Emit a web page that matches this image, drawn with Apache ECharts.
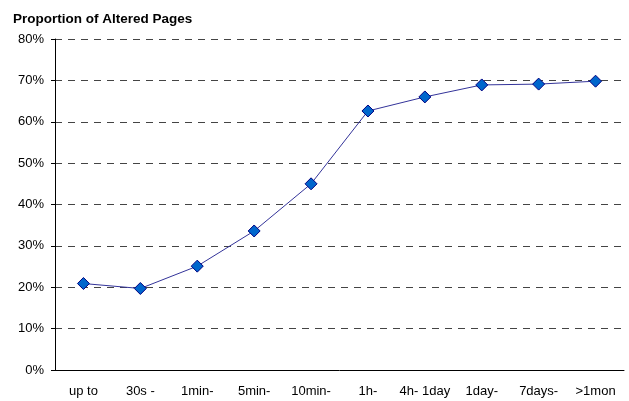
<!DOCTYPE html>
<html><head><meta charset="utf-8">
<script src="https://cdn.jsdelivr.net/npm/echarts@6/dist/echarts.min.js"></script>
<style>html,body{margin:0;padding:0;background:#fff}#c{width:629px;height:401px}</style>
</head><body><div id="c"></div>
<script>
var categories = ["up to", "30s -", "1min-", "5min-", "10min-", "1h-", "4h- 1day", "1day-", "7days-", ">1mon"];
var values = [20.9, 19.7, 25.1, 33.6, 45.0, 62.6, 66.0, 68.9, 69.1, 69.8];
var chart = echarts.init(document.getElementById('c'));
chart.setOption({
  animation: false,
  title: {text: 'Proportion of Altered Pages', left: 8, top: 7,
    textStyle: {fontFamily: 'Liberation Sans, Arial', fontSize: 13.5, fontWeight: 'bold', color: '#000'}},
  grid: {left: 55, right: 5, top: 39, bottom: 31},
  xAxis: {type: 'category', data: categories, boundaryGap: true,
    axisLine: {lineStyle: {color: '#000', width: 1}},
    axisTick: {length: 4, lineStyle: {color: '#000'}},
    axisLabel: {fontFamily: 'Liberation Sans, Arial', fontSize: 13, color: '#000', margin: 15, interval: 0}},
  yAxis: {type: 'value', min: 0, max: 80, interval: 10,
    axisLine: {show: true, lineStyle: {color: '#000', width: 1}},
    axisTick: {show: true, length: 4, lineStyle: {color: '#000'}},
    axisLabel: {formatter: '{value}%', fontFamily: 'Liberation Sans, Arial', fontSize: 13, color: '#000', margin: 11},
    splitLine: {show: true, lineStyle: {color: '#444', type: [7, 6], width: 1}}},
  series: [{type: 'line', data: values, symbol: 'diamond', symbolSize: 12,
    lineStyle: {color: '#333399', width: 1},
    itemStyle: {color: '#0066CC', borderColor: '#000080', borderWidth: 1}}]
});
</script></body></html>
